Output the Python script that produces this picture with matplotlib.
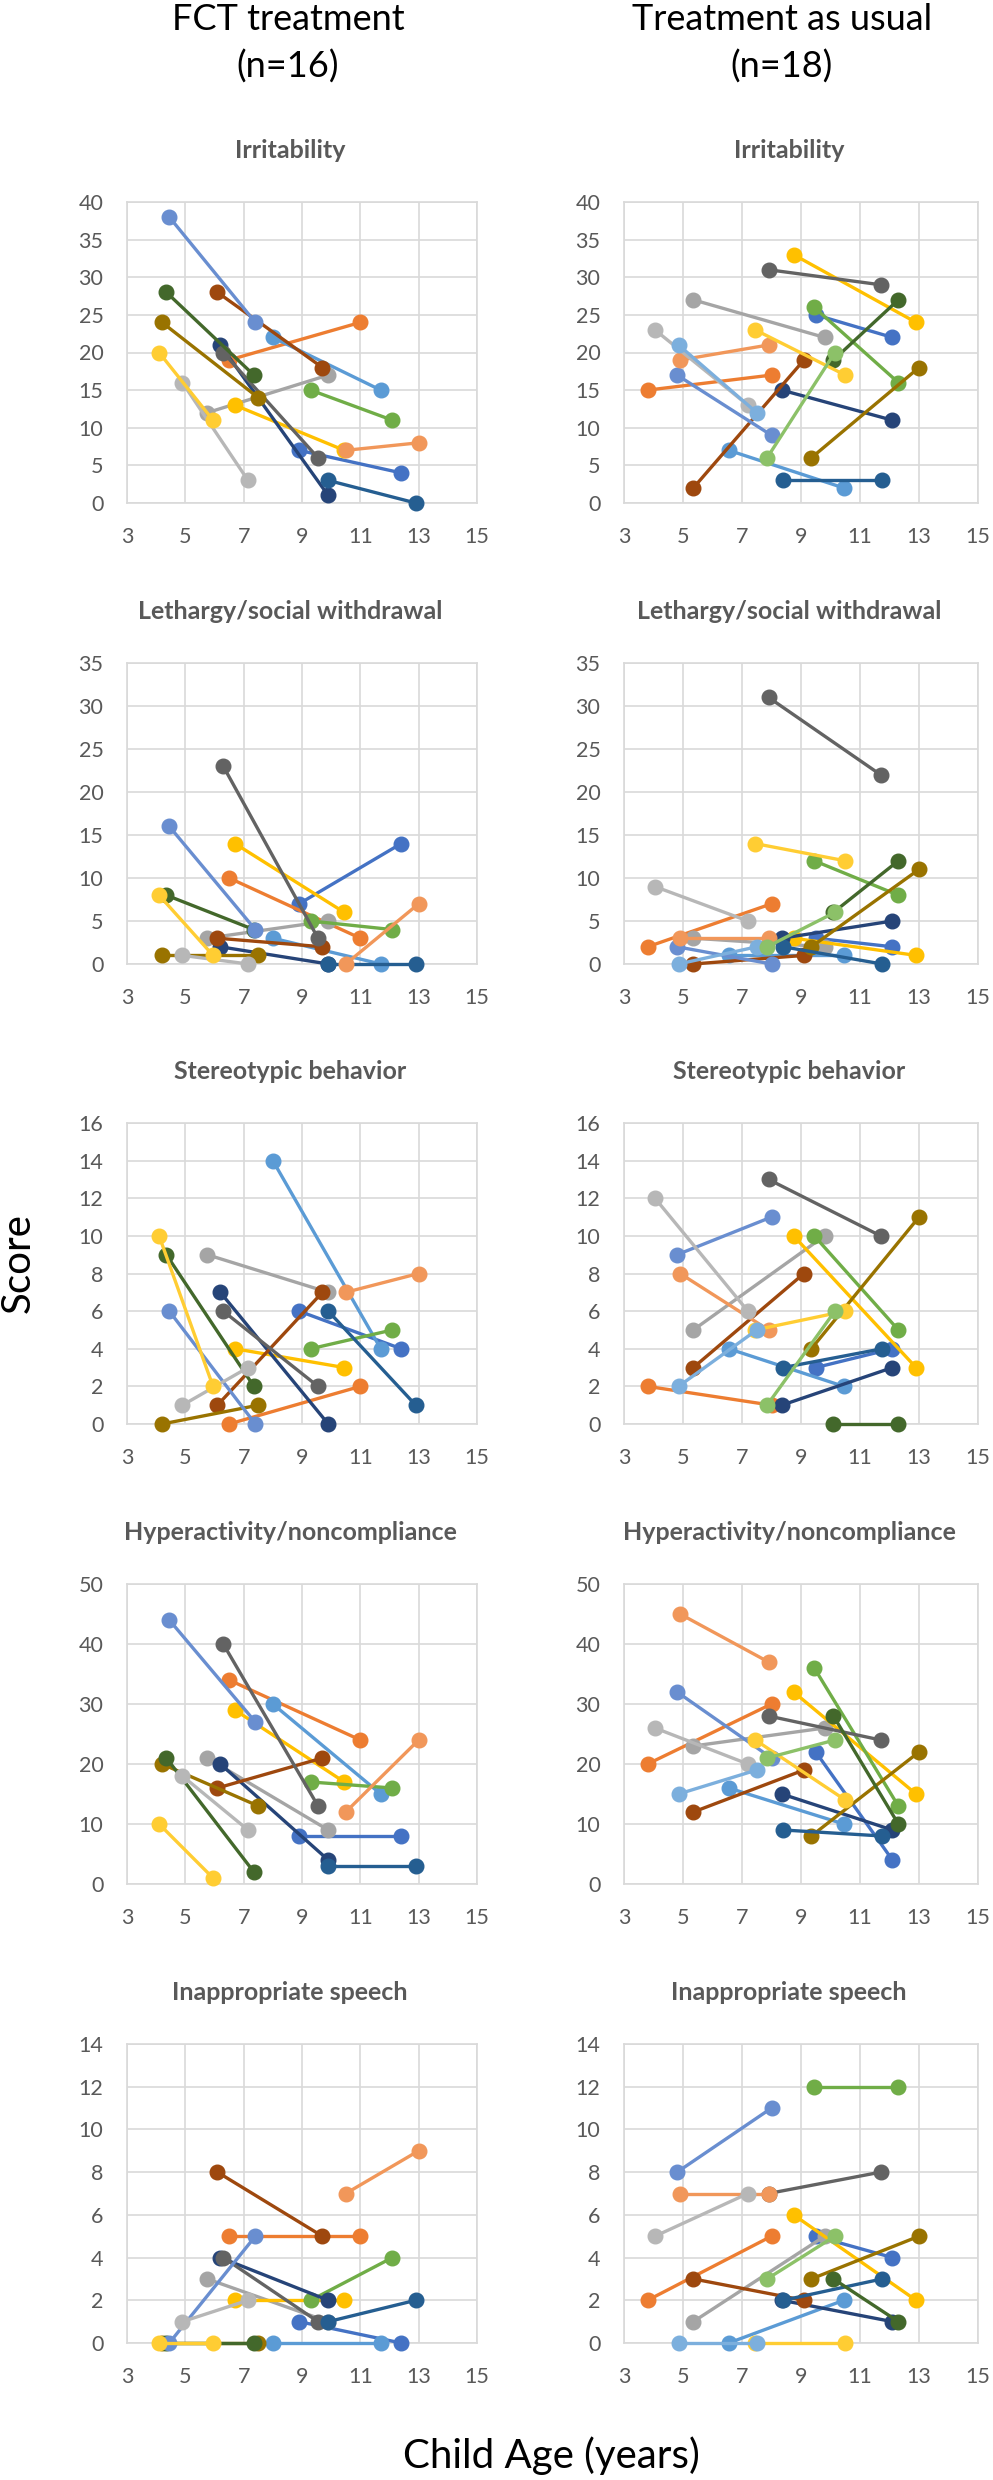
import matplotlib
matplotlib.use("Agg")
import matplotlib.pyplot as plt

plt.rcParams['font.family'] = ['Lato', 'DejaVu Sans']

# ---------------- data ----------------
colors = ['#4472C4', '#ED7D31', '#A5A5A5', '#FFC000', '#5B9BD5', '#70AD47',
          '#264478', '#9E480E', '#636363', '#997300', '#255E91', '#43682B',
          '#698ED0', '#F1975A', '#B7B7B7', '#FFCD33', '#7CAFDD', '#8CC168']

panel_titles = ['Irritability', 'Lethargy/social withdrawal', 'Stereotypic behavior',
                'Hyperactivity/noncompliance', 'Inappropriate speech']
y_max = [40, 35, 16, 50, 14]
y_step = [5, 5, 2, 10, 2]
x_ticks = [3, 5, 7, 9, 11, 13, 15]

# FCT treatment group (n=16): age at baseline / follow-up
fct_age_pre = [8.9, 6.5, 5.75, 6.7, 8.0, 9.3, 6.2, 6.1, 6.3, 4.2, 9.9, 4.35, 4.45, 10.5, 4.9, 4.1]
fct_age_post = [12.4, 11.0, 9.9, 10.45, 11.7, 12.1, 9.9, 9.7, 9.55, 7.5, 12.9, 7.35, 7.4, 13.0, 7.15, 5.95]

fct_irr_pre = [7, 19, 12, 13, 22, 15, 21, 28, 20, 24, 3, 28, 38, 7, 16, 20]
fct_irr_post = [4, 24, 17, 7, 15, 11, 1, 18, 6, 14, 0, 17, 24, 8, 3, 11]
fct_leth_pre = [7, 10, 3, 14, 3, 5, 2, 3, 23, 1, 0, 8, 16, 0, 1, 8]
fct_leth_post = [14, 3, 5, 6, 0, 4, 0, 2, 3, 1, 0, 4, 4, 7, 0, 1]
fct_ster_pre = [6, 0, 9, 4, 14, 4, 7, 1, 6, 0, 6, 9, 6, 7, 1, 10]
fct_ster_post = [4, 2, 7, 3, 4, 5, 0, 7, 2, 1, 1, 2, 0, 8, 3, 2]
fct_hyp_pre = [8, 34, 21, 29, 30, 17, 20, 16, 40, 20, 3, 21, 44, 12, 18, 10]
fct_hyp_post = [8, 24, 9, 17, 15, 16, 4, 21, 13, 13, 3, 2, 27, 24, 9, 1]
fct_inap_pre = [1, 5, 3, 2, 0, 2, 4, 8, 4, 0, 1, 0, 0, 7, 1, 0]
fct_inap_post = [0, 5, 1, 2, 0, 4, 2, 5, 1, 0, 2, 0, 5, 9, 2, 0]

# Treatment as usual group (n=18)
tau_age_pre = [9.5, 3.8, 5.35, 8.75, 6.55, 9.45, 8.35, 5.35, 7.9, 9.35, 8.4, 10.1, 4.8, 4.9, 4.05, 7.45, 4.85, 7.85]
tau_age_post = [12.1, 8.0, 9.8, 12.9, 10.45, 12.3, 12.1, 9.1, 11.7, 13.0, 11.75, 12.3, 8.0, 7.9, 7.2, 10.5, 7.5, 10.15]

tau_irr_pre = [25, 15, 27, 33, 7, 26, 15, 2, 31, 6, 3, 19, 17, 19, 23, 23, 21, 6]
tau_irr_post = [22, 17, 22, 24, 2, 16, 11, 19, 29, 18, 3, 27, 9, 21, 13, 17, 12, 20]
tau_leth_pre = [3, 2, 3, 3, 1, 12, 3, 0, 31, 2, 2, 6, 2, 3, 9, 14, 0, 2]
tau_leth_post = [2, 7, 2, 1, 1, 8, 5, 1, 22, 11, 0, 12, 0, 3, 5, 12, 2, 6]
tau_ster_pre = [3, 2, 5, 10, 4, 10, 1, 3, 13, 4, 3, 0, 9, 8, 12, 5, 2, 1]
tau_ster_post = [4, 1, 10, 3, 2, 5, 3, 8, 10, 11, 4, 0, 11, 5, 6, 6, 5, 6]
tau_hyp_pre = [22, 20, 23, 32, 16, 36, 15, 12, 28, 8, 9, 28, 32, 45, 26, 24, 15, 21]
tau_hyp_post = [4, 30, 26, 15, 10, 13, 9, 19, 24, 22, 8, 10, 21, 37, 20, 14, 19, 24]
tau_inap_pre = [5, 2, 1, 6, 0, 12, 2, 3, 7, 3, 2, 3, 8, 7, 5, 0, 0, 3]
tau_inap_post = [4, 5, 5, 2, 2, 12, 1, 2, 8, 5, 3, 1, 11, 7, 7, 0, 0, 5]

fct_scores = [(fct_irr_pre, fct_irr_post), (fct_leth_pre, fct_leth_post),
              (fct_ster_pre, fct_ster_post), (fct_hyp_pre, fct_hyp_post),
              (fct_inap_pre, fct_inap_post)]
tau_scores = [(tau_irr_pre, tau_irr_post), (tau_leth_pre, tau_leth_post),
              (tau_ster_pre, tau_ster_post), (tau_hyp_pre, tau_hyp_post),
              (tau_inap_pre, tau_inap_post)]

# ---------------- layout (pixels) ----------------
W, H = 993, 2480
fig = plt.figure(figsize=(W / 100, H / 100), dpi=100)

col_x = [(127, 477), (624, 978)]
row_y = [(202, 503), (663, 964), (1123, 1424), (1584, 1884), (2044, 2343)]

GRID = '#D9D9D9'
TXT = '#595959'


def add_ax(x0, x1, y0, y1):
    return fig.add_axes([x0 / W, 1 - y1 / H, (x1 - x0) / W, (y1 - y0) / H])


for ci, (ages, scores) in enumerate([((fct_age_pre, fct_age_post), fct_scores),
                                     ((tau_age_pre, tau_age_post), tau_scores)]):
    a_pre, a_post = ages
    for ri in range(5):
        x0, x1 = col_x[ci]
        y0, y1 = row_y[ri]
        ax = add_ax(x0, x1, y0, y1)
        s_pre, s_post = scores[ri]
        for i in range(len(a_pre)):
            ax.plot([a_pre[i], a_post[i]], [s_pre[i], s_post[i]], '-o',
                    color=colors[i], lw=2.4, ms=10.5, mec=colors[i],
                    clip_on=False, zorder=3 + i * 0.01)
        ax.set_xlim(3, 15)
        ax.set_ylim(0, y_max[ri])
        ax.set_xticks(x_ticks)
        ax.set_yticks(list(range(0, y_max[ri] + 1, y_step[ri])))
        ax.grid(True, color=GRID, lw=1.2, zorder=0)
        ax.set_axisbelow(True)
        for sp in ax.spines.values():
            sp.set_color(GRID)
            sp.set_linewidth(1.2)
        ax.tick_params(length=0, labelsize=15.5, labelcolor=TXT, pad=17)
        # panel title
        cx = (x0 + x1) / 2 - 12
        fig.text(cx / W, 1 - (y0 - 44) / H, panel_titles[ri], ha='center',
                 va='baseline', fontsize=18, fontweight='bold', color=TXT)

# column headers
fig.text(288 / W, 1 - 30 / H, 'FCT treatment', ha='center', va='baseline', fontsize=26)
fig.text(288 / W, 1 - 78 / H, '(n=16)', ha='center', va='baseline', fontsize=26)
fig.text(782 / W, 1 - 30 / H, 'Treatment as usual', ha='center', va='baseline', fontsize=26)
fig.text(782 / W, 1 - 78 / H, '(n=18)', ha='center', va='baseline', fontsize=26)

# axis labels
fig.text(18 / W, 1 - 1263 / H, 'Score', rotation=90, ha='center', va='center', fontsize=29)
fig.text(551 / W, 1 - 2468 / H, 'Child Age (years)', ha='center', va='baseline', fontsize=29)

fig.savefig('out.png', dpi=100, facecolor='white')
